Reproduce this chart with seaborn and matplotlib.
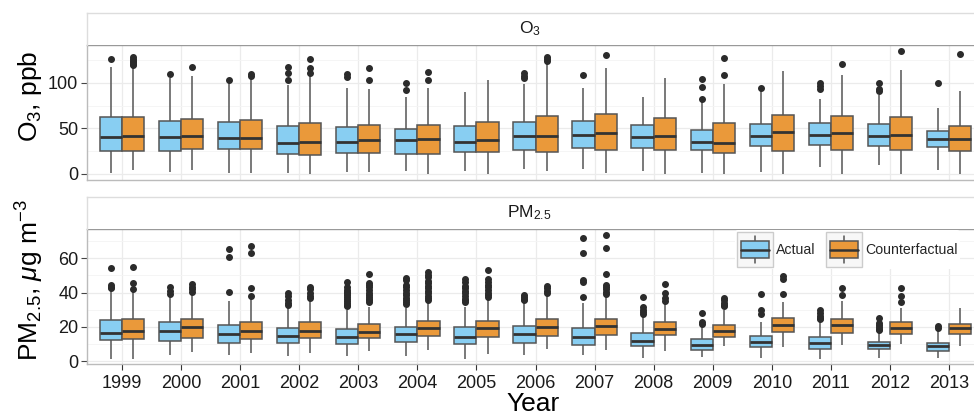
import numpy as np
import pandas as pd
import matplotlib
matplotlib.use("Agg")
import matplotlib.pyplot as plt
import seaborn as sns
from matplotlib.legend_handler import HandlerBase
from matplotlib.patches import Rectangle, Patch
from matplotlib.lines import Line2D

# ---------------- data ----------------
years = [str(y) for y in range(1999, 2014)]
types = ["Actual", "Counterfactual"]

# O3 (ppb) -- Actual
o3_act_lo  = [1.5, 1.8, 1.1, 0.7, 1.8, 3.3, 3.3, 5.8, 5.8, 3.6, 0.7, 2.6, 8.0, 9.5, 4.0]
o3_act_q1  = [25.5, 25.2, 27.4, 21.5, 22.6, 21.9, 23.7, 26.3, 28.1, 28.8, 26.3, 30.7, 31.8, 30.7, 29.2]
o3_act_med = [40.1, 40.9, 39.0, 34.3, 35.0, 37.2, 34.7, 41.2, 42.7, 40.1, 35.4, 41.2, 42.3, 41.6, 38.3]
o3_act_q3  = [62.8, 58.4, 56.9, 52.2, 51.5, 49.6, 52.6, 57.3, 58.4, 53.6, 48.2, 55.1, 55.5, 54.4, 47.1]
o3_act_hi  = [116.8, 104.7, 99.3, 97.4, 94.5, 83.9, 89.8, 98.9, 94.5, 84.7, 79.2, 91.0, 82.1, 86.5, 72.6]
o3_act_out = [[125.5], [109.5], [103.3], [103.3, 110.2, 116.8], [106.6, 109.1], [92.0, 100.0], [],
              [105.0, 107.0, 110.2], [108.0], [], [82.1, 95.3, 103.6], [94.5], [93.0, 96.0, 100.0],
              [91.2, 93.4, 100.0], [100.0]]

# O3 (ppb) -- Counterfactual
o3_cf_lo  = [4.4, 4.0, 1.5, 0.0, 2.2, 0.0, 0.0, 2.9, 1.5, 0.0, 0.0, 0.0, 0.0, 0.0, 0.0]
o3_cf_q1  = [25.5, 27.0, 27.4, 21.2, 22.6, 22.3, 23.7, 23.7, 26.6, 25.9, 23.4, 25.5, 26.6, 26.3, 25.2]
o3_cf_med = [41.2, 42.0, 39.4, 35.0, 37.2, 38.0, 36.9, 41.6, 44.5, 42.0, 34.3, 46.0, 44.5, 42.3, 38.3]
o3_cf_q3  = [62.8, 60.2, 58.8, 55.8, 54.0, 53.3, 57.3, 63.5, 65.3, 61.3, 55.5, 65.0, 63.5, 62.8, 52.6]
o3_cf_hi  = [116.0, 107.3, 104.7, 107.3, 93.0, 93.8, 103.3, 122.6, 116.4, 105.5, 98.5, 113.1, 108.8, 113.9, 91.2]
o3_cf_out = [[119.3, 121.0, 122.5, 124.0, 126.0, 128.5], [117.2], [107.7, 110.0], [110.2, 116.0, 126.3],
             [102.6, 116.0], [103.3, 111.7], [], [124.0, 126.0, 128.0], [130.7], [], [108.4, 126.6],
             [], [120.0], [134.7], [131.4]]

# PM2.5 (ug m-3) -- Actual
pm_act_lo  = [1.6, 3.5, 3.7, 2.9, 3.1, 3.3, 1.6, 3.5, 3.9, 2.1, 2.5, 2.1, 1.6, 1.9, 2.1]
pm_act_q1  = [12.1, 11.9, 10.7, 10.7, 10.3, 11.1, 10.3, 10.9, 9.4, 9.0, 6.8, 8.2, 7.2, 7.0, 5.8]
pm_act_med = [16.6, 17.5, 15.8, 14.6, 14.2, 15.8, 14.2, 15.6, 14.4, 11.9, 9.4, 11.5, 10.9, 9.4, 8.8]
pm_act_q3  = [23.8, 22.6, 21.0, 19.5, 18.9, 19.9, 19.9, 20.7, 19.5, 16.2, 12.7, 14.8, 14.0, 11.5, 10.9]
pm_act_hi  = [41.3, 37.6, 35.1, 30.8, 29.8, 30.8, 31.8, 34.3, 33.7, 26.5, 21.1, 23.0, 22.6, 17.5, 17.5]
pm_act_out = [[42.5, 43.5, 44.3, 54.4], [39.2, 40.9, 43.3], [40.3, 61.0, 65.7],
              [32.9, 34.0, 36.0, 38.0, 39.6],
              [32.0, 33.0, 34.0, 35.0, 36.5, 37.5, 38.5, 39.5, 40.5, 41.5, 43.0, 46.4],
              [33.5, 34.5, 35.5, 37.0, 38.5, 40.0, 41.5, 43.0, 44.5, 47.5, 48.7],
              [34.5, 35.5, 36.5, 38.0, 39.5, 41.0, 42.5, 44.0, 46.0, 48.0],
              [35.5, 36.5, 37.5, 38.6], [37.6, 46.0, 47.4, 63.0, 72.1],
              [27.5, 28.5, 30.0, 31.8, 37.2], [22.0, 23.0, 27.9], [27.3, 29.8, 39.2],
              [24.6, 25.5, 26.5, 28.0, 30.0], [18.3, 19.0, 20.0, 21.0, 22.5, 25.3], [19.1, 20.7]]

# PM2.5 (ug m-3) -- Counterfactual
pm_cf_lo  = [1.6, 5.3, 5.1, 5.1, 5.8, 6.8, 4.5, 7.4, 6.4, 6.0, 8.8, 8.4, 9.4, 10.1, 9.0]
pm_cf_q1  = [13.1, 13.8, 12.9, 13.3, 13.3, 14.8, 14.2, 14.8, 15.4, 15.2, 14.2, 17.2, 16.2, 15.8, 16.0]
pm_cf_med = [17.7, 19.7, 17.5, 17.7, 17.2, 19.5, 19.1, 19.9, 20.5, 18.7, 17.5, 21.4, 21.0, 19.5, 19.1]
pm_cf_q3  = [24.6, 24.4, 22.6, 22.6, 21.6, 23.2, 23.4, 24.6, 24.8, 23.0, 21.1, 25.0, 24.4, 22.6, 22.0]
pm_cf_hi  = [40.5, 39.6, 36.3, 35.7, 31.4, 33.7, 36.3, 38.6, 37.6, 33.7, 29.8, 34.3, 35.1, 31.2, 30.8]
pm_cf_out = [[42.4, 45.4, 55.0], [40.5, 42.0, 43.5, 45.0], [38.2, 42.5, 63.0, 67.4],
             [36.8, 38.0, 40.0, 42.0, 43.3],
             [34.5, 35.5, 36.5, 37.5, 38.5, 40.0, 41.5, 43.0, 44.5, 45.4, 50.9],
             [36.0, 37.0, 38.0, 39.5, 41.0, 42.5, 44.0, 45.5, 47.0, 49.0, 50.5, 52.2],
             [37.6, 38.6, 40.0, 41.5, 43.0, 44.5, 46.0, 48.0, 53.2],
             [39.6, 41.0, 42.5, 44.0], [39.0, 40.5, 42.0, 43.5, 44.4, 50.9, 66.3, 73.7],
             [35.0, 37.0, 39.6, 45.0], [32.0, 33.0, 34.0, 35.5, 37.0], [39.2, 48.0, 49.9],
             [38.6, 42.9], [34.3, 38.0, 42.5], []]

panels = [
    dict(strip=r"O$_3$", ylabel=r"O$_3$, ppb",
         stats={"Actual": (o3_act_lo, o3_act_q1, o3_act_med, o3_act_q3, o3_act_hi, o3_act_out),
                "Counterfactual": (o3_cf_lo, o3_cf_q1, o3_cf_med, o3_cf_q3, o3_cf_hi, o3_cf_out)},
         yticks=[0, 50, 100], yminor=[25, 75, 125], ylim=(-6.6, 141.3)),
    dict(strip=r"PM$_{2.5}$", ylabel=r"PM$_{2.5}$, $\mathit{\mu}$g m$^{-3}$",
         stats={"Actual": (pm_act_lo, pm_act_q1, pm_act_med, pm_act_q3, pm_act_hi, pm_act_out),
                "Counterfactual": (pm_cf_lo, pm_cf_q1, pm_cf_med, pm_cf_q3, pm_cf_hi, pm_cf_out)},
         yticks=[0, 20, 40, 60], yminor=[10, 30, 50, 70], ylim=(-1.6, 77.1)),
]

colors = {"Actual": "#88CEF2", "Counterfactual": "#EA993A"}


def sample_from_stats(lo, q1, med, q3, hi, out, a=100):
    """Build a table whose box statistics equal the read-off values."""
    m = len(out)
    b = m + 2
    return [lo] + [q1] * a + [med] * b + [q3] * a + [hi] + list(out)


def build_table(stats):
    rows = []
    for t in types:
        lo, q1, med, q3, hi, out = stats[t]
        for i, yr in enumerate(years):
            for v in sample_from_stats(lo[i], q1[i], med[i], q3[i], hi[i], out[i]):
                rows.append((yr, t, v))
    return pd.DataFrame(rows, columns=["Year", "Type", "value"])


# ---------------- style ----------------
sns.set_theme(style="white")
plt.rcParams["font.family"] = ["Liberation Sans", "DejaVu Sans"]
plt.rcParams["mathtext.fontset"] = "custom"
plt.rcParams["mathtext.rm"] = "Liberation Sans"
plt.rcParams["mathtext.it"] = "Liberation Sans:italic"
plt.rcParams["mathtext.default"] = "regular"

W, H = 974, 417
fig = plt.figure(figsize=(W / 100, H / 100), dpi=100)
fig.patch.set_facecolor("white")

left_px, right_px = 86.6, 984.4
panel_px = [(45, 180, 13), (229, 364, 197)]   # (top, bottom, strip top)


def fx(px):
    return px / W


def fy(py):
    return 1 - py / H


class BoxKeyHandler(HandlerBase):
    def create_artists(self, legend, orig_handle, xdescent, ydescent, width, height, fontsize, trans):
        x0, y0 = -xdescent, -ydescent
        fc = orig_handle.get_facecolor()
        arts = []
        arts.append(Rectangle((x0, y0), width, height, facecolor="#F7F7F7",
                              edgecolor="#CCCCCC", linewidth=1.0, transform=trans))
        cx = x0 + width / 2
        arts.append(Line2D([cx, cx], [y0 + 0.1 * height, y0 + 0.9 * height],
                           color="#555555", linewidth=1.1, transform=trans))
        arts.append(Rectangle((x0 + 0.11 * width, y0 + 0.25 * height), 0.78 * width, 0.5 * height,
                              facecolor=fc, edgecolor="#555555", linewidth=1.1, transform=trans))
        arts.append(Line2D([x0 + 0.11 * width, x0 + 0.89 * width], [y0 + 0.5 * height] * 2,
                           color="#333333", linewidth=1.8, transform=trans))
        return arts


for k, p in enumerate(panels):
    top, bot, stop = panel_px[k]
    ax = fig.add_axes([fx(left_px), fy(bot), fx(right_px - left_px), (bot - top) / H])
    sax = fig.add_axes([fx(left_px), fy(top), fx(right_px - left_px), (top - stop) / H])

    df = build_table(p["stats"])
    sns.boxplot(data=df, x="Year", y="value", hue="Type", order=years, hue_order=types,
                palette=colors, saturation=1, width=0.75, gap=0, dodge=True,
                linecolor="#555555", linewidth=1.1, showcaps=False,
                medianprops={"color": "#333333", "linewidth": 2.0},
                flierprops={"marker": "o", "markersize": 4, "markerfacecolor": "#2b2b2b",
                            "markeredgecolor": "#2b2b2b"},
                legend=False, ax=ax, zorder=3)

    ax.set_xlim(-0.6, len(years) - 0.4)
    ax.set_ylim(*p["ylim"])
    ax.set_yticks(p["yticks"])
    ax.set_yticks(p["yminor"], minor=True)
    ax.set_xticks(range(len(years)))
    ax.set_axisbelow(True)
    ax.grid(True, which="major", color="#EBEBEB", linewidth=0.9)
    ax.grid(True, which="minor", axis="y", color="#F4F4F4", linewidth=0.6)
    ax.set_facecolor("white")
    for s in ax.spines.values():
        s.set_color("#BBBBBB")
        s.set_linewidth(1.0)
    ax.spines["top"].set_color("#999999")
    ax.tick_params(axis="y", which="major", left=True, length=4, width=0.8, color="#444444",
                   labelsize=13, labelcolor="#1a1a1a", pad=2)
    ax.tick_params(axis="y", which="minor", left=False)
    ax.set_ylabel("")
    ax.set_xlabel("")
    if k == 0:
        ax.tick_params(axis="x", bottom=False, labelbottom=False)
    else:
        ax.tick_params(axis="x", bottom=True, length=4, width=0.8, color="#333333",
                       labelsize=13, labelcolor="#1a1a1a", pad=4)

    # strip
    sax.set_xticks([])
    sax.set_yticks([])
    sax.set_facecolor("white")
    for s in sax.spines.values():
        s.set_color("#DDDDDD")
        s.set_linewidth(1.0)
    sax.spines["bottom"].set_visible(False)
    sax.text((529.5 - left_px) / (right_px - left_px), 0.5, p["strip"],
             transform=sax.transAxes, ha="center", va="center", fontsize=12.5, color="#1a1a1a")

    # y label, centred on strip + panel
    fig.text(fx(30), fy((stop + bot) / 2), p["ylabel"], rotation=90, ha="center", va="center",
             fontsize=19, color="#000000")

    if k == 1:
        handles = [Patch(facecolor=colors[t], label=t) for t in types]
        leg = ax.legend(handles=handles, labels=types, handler_map={Patch: BoxKeyHandler()},
                        loc="upper right",
                        bbox_to_anchor=((960 - left_px) / (right_px - left_px), 1 - 1 / (bot - top)),
                        ncol=2, fontsize=10.2, frameon=True, facecolor="white", edgecolor="none",
                        framealpha=1, handlelength=2.5, handleheight=3.4, handletextpad=0.25,
                        columnspacing=0.75, borderpad=0.15, borderaxespad=0)
        leg.get_frame().set_linewidth(0)
        leg.set_zorder(5)

fig.text(fx(533), fy(411), "Year", ha="center", va="baseline", fontsize=19, color="#000000")

fig.savefig("out.png", dpi=100)
